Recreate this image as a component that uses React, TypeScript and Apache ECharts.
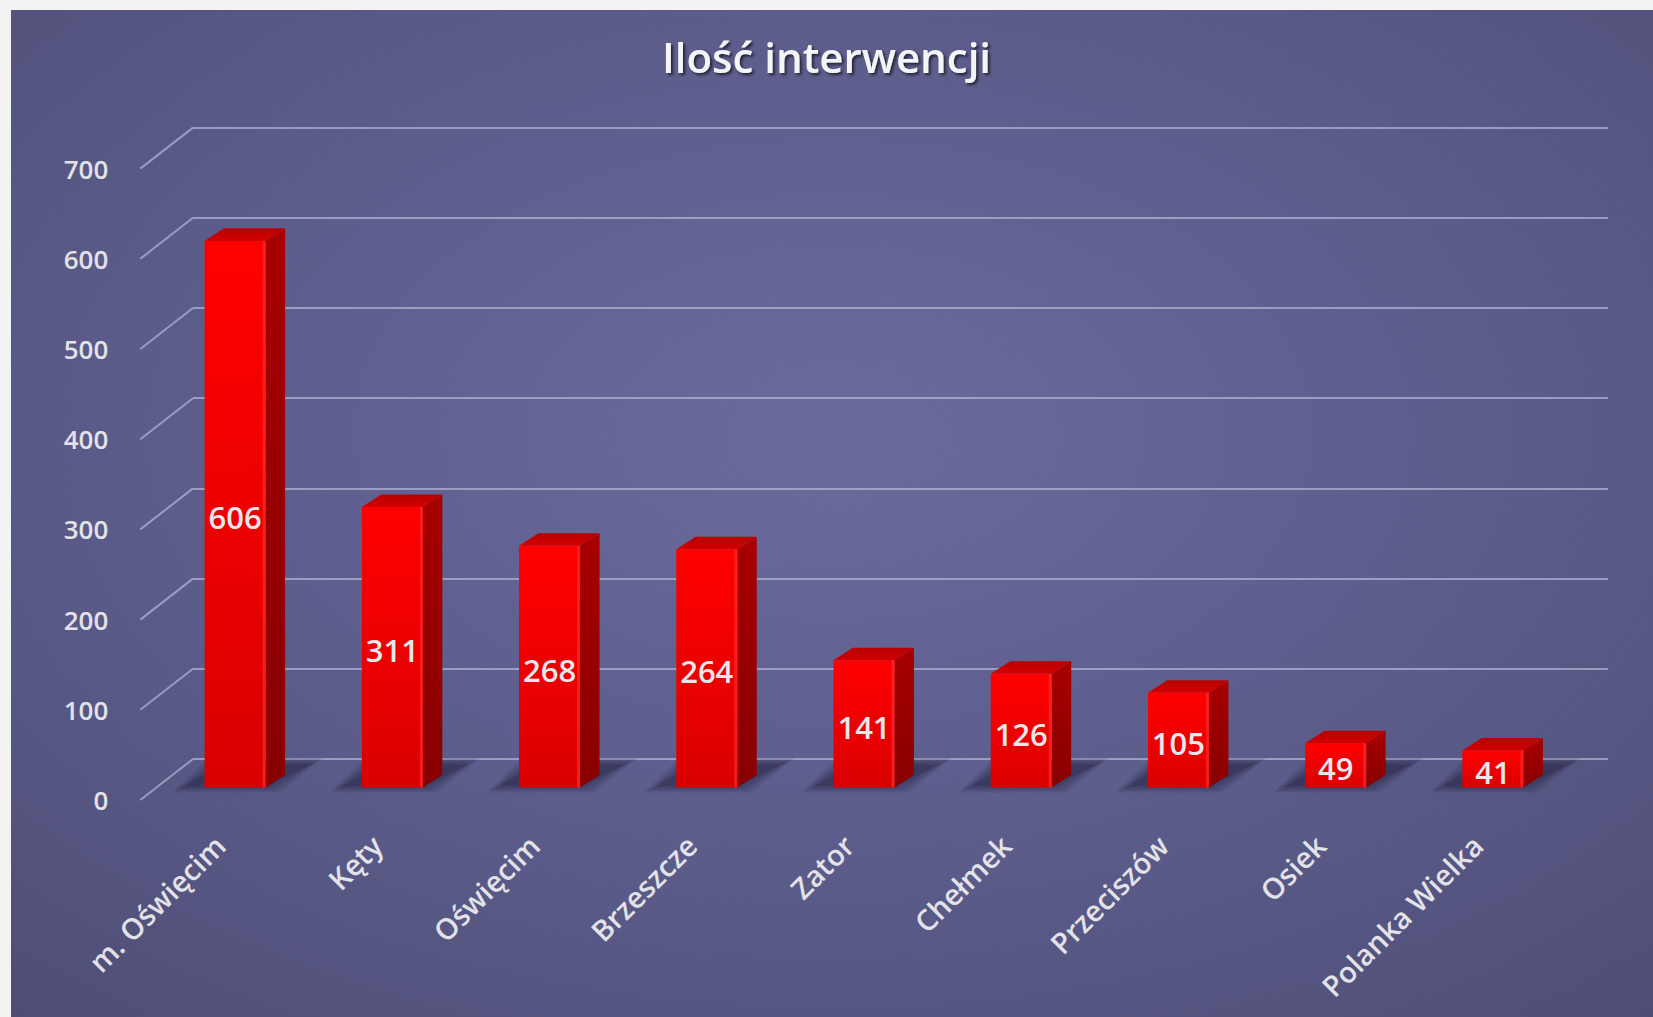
import React, { useEffect, useRef } from "react";
import * as echarts from "echarts";

const categories = [
  "m. Oświęcim",
  "Kęty",
  "Oświęcim",
  "Brzeszcze",
  "Zator",
  "Chełmek",
  "Przeciszów",
  "Osiek",
  "Polanka Wielka",
];
const values = [606, 311, 268, 264, 141, 126, 105, 49, 41];
const yTicks = [0, 100, 200, 300, 400, 500, 600, 700];
const titleText = "Ilość interwencji";

const W = 1653;
const H = 1017;
const FONT = "'Open Sans', 'DejaVu Sans', sans-serif";
const GRID_COLOR = "rgba(195,195,228,0.62)";
const LABEL_COLOR = "#e2e2e8";

// projection offsets (px)
const FRONT_DX = -52.7;
const FRONT_DY = 41;
const BAR_DX = -36.5;
const BAR_DY = 28.5;
const DEPTH_DX = 19.5;
const DEPTH_DY = -12.6;

export default function App() {
  const ref = useRef<HTMLDivElement>(null);

  useEffect(() => {
    if (!ref.current) return;
    const chart = echarts.init(ref.current, undefined, { renderer: "svg" });

    const back = { left: 193, right: 45, top: 127.6, bottom: 258 };
    const front = {
      left: back.left + FRONT_DX,
      right: back.right - FRONT_DX,
      top: back.top + FRONT_DY,
      bottom: back.bottom - FRONT_DY,
    };
    const bar = {
      left: back.left + BAR_DX,
      right: back.right - BAR_DX,
      top: back.top + BAR_DY,
      bottom: back.bottom - BAR_DY,
    };

    const option: any = {
      animation: false,
      backgroundColor: "#f3f3f3",
      graphic: [
        {
          type: "rect",
          z: -10,
          silent: true,
          shape: { x: 11, y: 10, width: W - 11, height: H - 10 },
          style: {
            fill: {
              type: "radial",
              x: 0.5,
              y: 0.42,
              r: 0.95,
              colorStops: [
                { offset: 0, color: "#6a6a9c" },
                { offset: 0.45, color: "#5c5c8b" },
                { offset: 1, color: "#45456a" },
              ],
            },
          },
        },
      ],
      title: {
        text: titleText,
        left: "center",
        top: 30,
        textStyle: {
          fontFamily: FONT,
          fontSize: 42,
          fontWeight: 600,
          color: "#f5f5f8",
          textShadowColor: "rgba(0,0,0,0.65)",
          textShadowBlur: 3,
          textShadowOffsetX: 2,
          textShadowOffsetY: 2,
        },
      },
      grid: [{ ...back }, { ...front }, { ...bar }],
      xAxis: [
        { type: "category", gridIndex: 0, data: categories, show: false },
        { type: "category", gridIndex: 1, data: categories, show: false },
        {
          type: "category",
          gridIndex: 2,
          data: categories,
          axisLine: { show: false },
          axisTick: { show: false },
          axisLabel: {
            rotate: 45,
            margin: 37,
            padding: [0, 22, 0, 0],
            interval: 0,
            color: LABEL_COLOR,
            fontFamily: FONT,
            fontSize: 29,
            fontWeight: 600,
          },
        },
      ],
      yAxis: [
        {
          type: "value",
          gridIndex: 0,
          min: 0,
          max: 700,
          interval: 100,
          axisLabel: { show: false },
          axisLine: { show: false },
          axisTick: { show: false },
          splitLine: { show: true, lineStyle: { color: GRID_COLOR, width: 2 } },
        },
        {
          type: "value",
          gridIndex: 1,
          min: 0,
          max: 700,
          interval: 100,
          axisLine: { show: false },
          axisTick: { show: false },
          splitLine: { show: false },
          axisLabel: {
            margin: 32,
            color: LABEL_COLOR,
            fontFamily: FONT,
            fontSize: 26,
            fontWeight: 600,
          },
        },
        {
          type: "value",
          gridIndex: 2,
          min: 0,
          max: 700,
          interval: 100,
          show: false,
          splitLine: { show: false },
        },
      ],
      series: [
        {
          type: "custom",
          xAxisIndex: 0,
          yAxisIndex: 0,
          data: yTicks.map((v) => [0, v]),
          encode: { x: 0, y: 1 },
          renderItem: (params: any, api: any) => {
            const y = api.coord([0, api.value(1)])[1];
            const x = params.coordSys.x;
            return {
              type: "line",
              shape: { x1: x, y1: y, x2: x + FRONT_DX, y2: y + FRONT_DY },
              style: { stroke: GRID_COLOR, lineWidth: 2 },
            };
          },
        },
        {
          type: "custom",
          xAxisIndex: 2,
          yAxisIndex: 2,
          data: values.map((v, i) => [i, v]),
          encode: { x: 0, y: 1 },
          renderItem: (params: any, api: any) => {
            const idx = api.value(0);
            const val = api.value(1);
            const top = api.coord([idx, val]);
            const base = api.coord([idx, 0]);
            const band = api.size([1, 0])[0];
            const w = band * 0.388;
            const x0 = top[0] - w / 2;
            const x1 = top[0] + w / 2;
            const yt = top[1];
            const yb = base[1];

            const shadowLayers: any[] = [];
            const steps = [14, 11, 8, 5, 2, 0];
            steps.forEach((s) => {
              shadowLayers.push({
                type: "polygon",
                shape: {
                  points: [
                    [x0 - 18 - s, yb - 2 + s * 0.5],
                    [x1 + s, yb - 2 + s * 0.5],
                    [x1 + DEPTH_DX + 24 + s, yb + DEPTH_DY - 10 - s * 0.5],
                    [x0 + DEPTH_DX - 2 - s, yb + DEPTH_DY - 10 - s * 0.5],
                  ],
                },
                style: { fill: "rgba(28,28,54,0.11)" },
              });
            });

            return {
              type: "group",
              children: [
                ...shadowLayers,
                {
                  type: "polygon",
                  shape: {
                    points: [
                      [x1, yt],
                      [x1 + DEPTH_DX, yt + DEPTH_DY],
                      [x1 + DEPTH_DX, yb + DEPTH_DY],
                      [x1, yb],
                    ],
                  },
                  style: {
                    fill: {
                      type: "linear",
                      x: 0,
                      y: 0,
                      x2: 0,
                      y2: 1,
                      colorStops: [
                        { offset: 0, color: "#a80000" },
                        { offset: 1, color: "#880000" },
                      ],
                    },
                  },
                },
                {
                  type: "polygon",
                  shape: {
                    points: [
                      [x0, yt],
                      [x0 + DEPTH_DX, yt + DEPTH_DY],
                      [x1 + DEPTH_DX, yt + DEPTH_DY],
                      [x1, yt],
                    ],
                  },
                  style: {
                    fill: {
                      type: "linear",
                      x: 0,
                      y: 0,
                      x2: 0,
                      y2: 1,
                      colorStops: [
                        { offset: 0, color: "#b80000" },
                        { offset: 1, color: "#d20000" },
                      ],
                    },
                  },
                },
                {
                  type: "rect",
                  shape: { x: x0, y: yt, width: w, height: yb - yt },
                  style: {
                    fill: {
                      type: "linear",
                      x: 0,
                      y: 0,
                      x2: 0,
                      y2: 1,
                      colorStops: [
                        { offset: 0, color: "#ff0000" },
                        { offset: 1, color: "#da0000" },
                      ],
                    },
                  },
                },
                {
                  type: "rect",
                  shape: { x: x1 - 3, y: yt, width: 3, height: yb - yt },
                  style: { fill: "rgba(255,40,40,0.7)" },
                },
                {
                  type: "text",
                  style: {
                    x: (x0 + x1) / 2,
                    y: (yt + yb) / 2 + 3,
                    text: String(val),
                    fill: "#e8e8ec",
                    fontFamily: FONT,
                    fontSize: 31,
                    fontWeight: 600,
                    align: "center",
                    verticalAlign: "middle",
                  },
                },
              ],
            };
          },
        },
      ],
    };

    chart.setOption(option);
    return () => chart.dispose();
  }, []);

  return (
    <div
      ref={ref}
      style={{ position: "fixed", left: 0, top: 0, width: W, height: H }}
    />
  );
}
